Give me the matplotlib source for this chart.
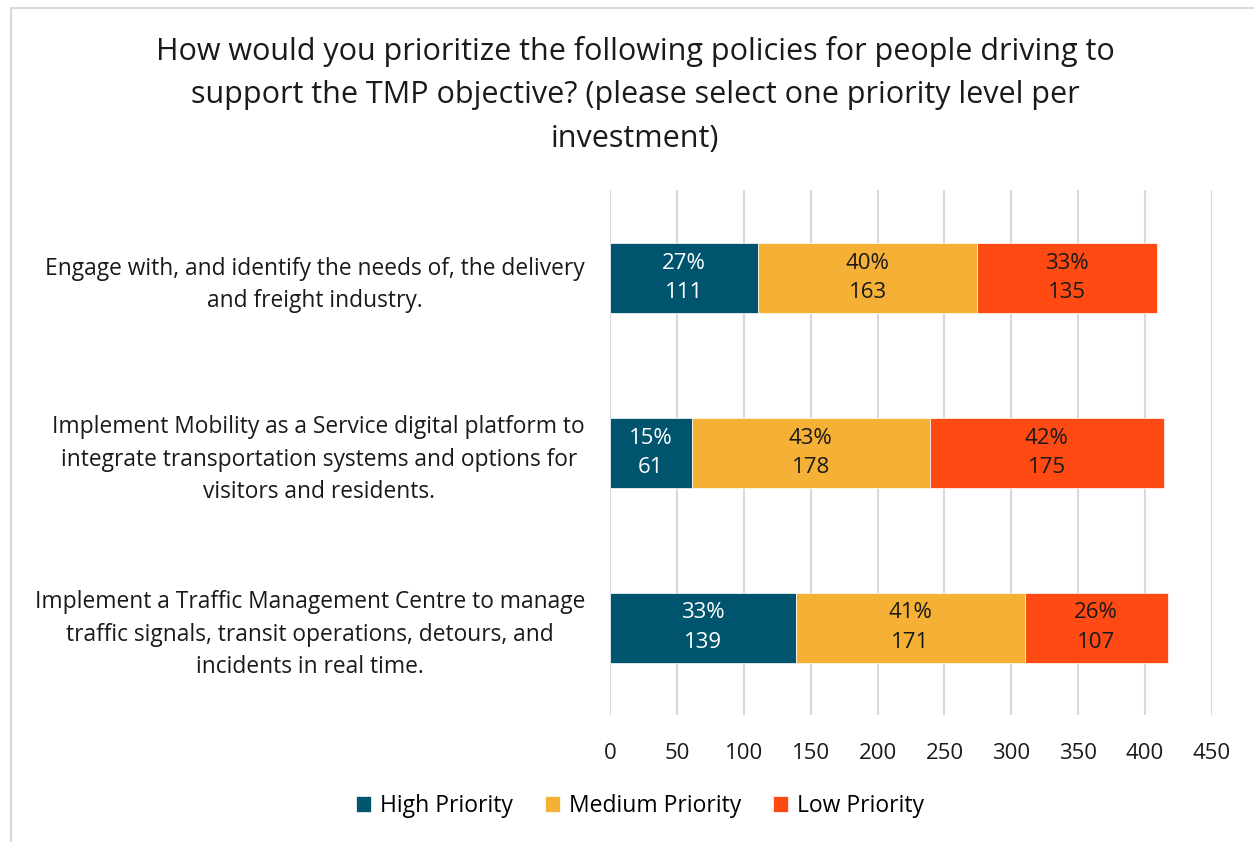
import matplotlib.pyplot as plt
import numpy as np

plt.rcParams['font.family'] = ['Open Sans', 'DejaVu Sans']

policies = [
    "Engage with, and identify the needs of, the delivery\nand freight industry.",
    "Implement Mobility as a Service digital platform to\nintegrate transportation systems and options for\nvisitors and residents.",
    "Implement a Traffic Management Centre to manage\ntraffic signals, transit operations, detours, and\nincidents in real time.",
]
levels = ["High Priority", "Medium Priority", "Low Priority"]
high = [111, 61, 139]
medium = [163, 178, 171]
low = [135, 175, 107]
colors = ["#00546E", "#F4B135", "#FF4A14"]
text_colors = ["white", "#1a1a1a", "#1a1a1a"]

W, H = 1254, 842
fig = plt.figure(figsize=(W / 100, H / 100), dpi=100)
ax = fig.add_axes([610 / W, 1 - 715 / H, (1212 - 610) / W, (715 - 190) / H])

# outer chart frame
fig.add_artist(plt.Rectangle((11 / W, -0.1), 2, 1 - 8 / H + 0.1, transform=fig.transFigure,
                             fill=False, ec="#d9d9d9", lw=1.5))

series = np.array([high, medium, low])
totals = series.sum(axis=0)
y = np.arange(len(policies))
left = np.zeros(len(policies))
for vals, name, c, tc in zip(series, levels, colors, text_colors):
    bars = ax.barh(y, vals, left=left, height=0.4, color=c, label=name,
                   edgecolor="white", linewidth=0.5, zorder=3)
    for b, v, t in zip(bars, vals, totals):
        ax.text(b.get_x() + b.get_width() / 2, b.get_y() + b.get_height() / 2,
                f"{round(100 * v / t)}%\n{v}", ha="center", va="center",
                color=tc, fontsize=16, linespacing=1.5, zorder=4)
    left += vals

ax.set_xlim(0, 450)
ax.set_ylim(2.5, -0.5)
ax.set_xticks(np.arange(0, 451, 50))
ax.set_yticks(y)
ax.set_yticklabels(policies, multialignment="center", fontsize=16.4, linespacing=1.45)
ax.tick_params(axis="x", length=0, labelsize=16, colors="#1a1a1a", pad=20)
ax.tick_params(axis="y", length=0, colors="#1a1a1a", pad=18)
ax.grid(axis="x", color="#d9d9d9", lw=1.5, zorder=0)
ax.set_axisbelow(True)
for s in ax.spines.values():
    s.set_visible(False)

fig.text(635 / W, 1 - 95 / H,
         "How would you prioritize the following policies for people driving to\n"
         "support the TMP objective? (please select one priority level per\n"
         "investment)", ha="center", va="center", fontsize=22, linespacing=1.58,
         color="#1a1a1a")

fig.legend(loc="center", bbox_to_anchor=(640 / W, 1 - 806 / H), ncol=3, frameon=False,
           fontsize=16.5, handlelength=0.65, handleheight=0.65, handletextpad=0.4,
           columnspacing=1.4)

fig.savefig("out.png", dpi=100)
